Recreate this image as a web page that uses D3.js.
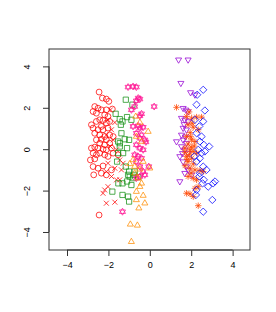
<!DOCTYPE html>
<html>
<head>
<meta charset="utf-8">
<script src="https://d3js.org/d3.v7.min.js"></script>
<style>
  body { margin: 0; background: #fff; }
  text { font-family: "Liberation Sans", Arial, sans-serif; }
</style>
</head>
<body>
<div id="chart"></div>
<script>
// point groups (x, y)
var redCircles = [[-2.45,2.76],[-2.29,2.47],[-2.10,2.42],[-1.98,2.31],[-2.66,2.06],[-2.50,1.98],[-2.34,1.90],[-2.10,1.90],[-1.81,1.94],[-2.74,1.82],[-2.58,1.74],[-2.18,1.66],[-2.82,1.18],[-2.58,1.34],[-2.42,1.42],[-2.26,1.39],[-2.10,1.26],[-1.94,1.34],[-2.74,1.02],[-2.50,0.94],[-2.26,0.94],[-2.02,1.02],[-2.66,0.77],[-2.42,0.69],[-2.18,0.61],[-1.94,0.69],[-1.77,0.61],[-2.58,0.45],[-2.34,0.48],[-2.10,0.45],[-2.82,0.05],[-2.66,0.10],[-2.50,0.05],[-2.26,0.00],[-2.10,-0.03],[-1.85,0.05],[-2.74,-0.19],[-2.58,-0.27],[-2.42,-0.19],[-2.18,-0.27],[-2.02,-0.35],[-1.77,-0.19],[-2.87,-0.52],[-2.66,-0.47],[-2.74,-0.84],[-2.50,-0.92],[-2.26,-0.81],[-1.85,-1.00],[-2.71,-1.24],[-2.34,-1.16],[-2.10,-1.24],[-2.45,-3.18],[-2.34,1.10],[-2.02,1.58],[-2.18,0.21],[-1.94,0.29],[-2.42,0.29],[-1.53,-0.27]];
var redCrosses = [[-1.90,1.90],[-2.02,1.42],[-1.69,1.29],[-1.85,0.94],[-2.10,0.69],[-1.77,0.45],[-1.90,0.13],[-1.61,-0.03],[-2.02,-0.68],[-1.69,-0.92],[-2.10,-1.08],[-1.85,-1.32],[-1.61,-1.48],[-2.02,-1.81],[-2.26,-2.13],[-2.10,-2.61],[-1.69,-2.56],[-1.45,-1.48],[-1.37,-1.00],[-2.18,-1.97],[-1.45,-0.52],[-1.29,-0.68]];
var greenSquares = [[-1.16,2.39],[-1.65,1.71],[-1.45,1.45],[-1.32,1.34],[-1.40,1.18],[-1.10,1.55],[-0.84,2.15],[-0.89,1.42],[-1.37,0.77],[-1.53,0.37],[-1.21,0.48],[-1.00,0.45],[-1.45,0.13],[-1.10,0.05],[-1.29,-0.19],[-1.58,-0.60],[-1.16,-0.84],[-1.00,-1.08],[-0.81,-1.40],[-0.97,-1.32],[-1.10,-1.56],[-1.32,-1.65],[-1.52,-1.65],[-0.89,-1.73],[-1.81,-2.05],[-1.32,-2.21],[-1.05,-2.29],[-1.00,-2.53],[-0.76,-1.24],[-0.56,-1.35],[-0.73,-1.08],[-1.53,-0.19],[-1.45,0.29],[-1.05,-1.24]];
var pinkStars = [[-1.05,3.00],[-0.81,3.03],[-0.65,3.00],[-0.56,2.47],[-0.65,2.34],[-0.48,2.42],[-0.89,1.90],[-0.73,2.06],[-0.40,1.71],[-0.48,1.61],[0.21,2.06],[-0.81,1.10],[-0.56,1.13],[-0.48,1.02],[-0.32,1.06],[-0.65,0.77],[-0.40,0.69],[-0.48,0.53],[-0.24,0.45],[-0.19,0.35],[-0.65,0.21],[-0.48,0.05],[-0.32,-0.03],[-0.73,-0.27],[-0.56,-0.35],[-0.40,-0.44],[-0.65,-0.60],[-0.48,-0.84],[-0.32,-1.08],[-0.24,-1.24],[-0.48,-1.32],[-0.65,-1.40],[-0.05,-0.84],[-1.32,-3.02]];
var orangeTriangles = [[-0.68,1.58],[-0.48,1.29],[-0.08,0.85],[-0.65,0.61],[-0.40,0.37],[-0.81,-0.52],[-0.97,-0.71],[-0.73,-0.84],[-0.48,-0.97],[-0.32,-0.60],[0.00,-0.92],[-0.73,-1.16],[-0.56,-1.40],[-0.40,-1.65],[-0.48,-1.81],[-0.65,-2.05],[-0.32,-2.24],[-0.65,-2.45],[-0.24,-2.61],[-0.53,-2.85],[-0.94,-3.63],[-0.60,-3.68],[-0.89,-4.47]];
var purpleTriangles = [[1.39,4.32],[1.85,4.32],[1.50,3.19],[1.97,2.74],[2.18,2.63],[1.61,1.98],[1.74,1.90],[1.85,1.82],[1.53,1.50],[1.69,1.42],[1.85,1.34],[1.61,1.02],[1.77,0.94],[1.53,0.69],[1.29,0.37],[1.61,0.45],[1.77,0.29],[1.53,0.13],[1.69,-0.03],[1.85,-0.19],[1.45,-0.35],[1.61,-0.60],[1.77,-0.84],[1.69,-1.16],[1.45,-1.56],[2.02,-1.24],[1.85,-1.00],[1.66,1.20],[1.58,-0.20],[1.72,0.60]];
var redAsterisks = [[1.29,2.02],[1.77,1.58],[2.02,1.50],[2.26,1.55],[2.50,1.55],[1.85,1.18],[2.10,1.06],[2.34,0.94],[1.77,0.61],[2.02,0.45],[2.18,0.37],[1.69,0.05],[1.94,-0.03],[2.10,-0.11],[2.26,-0.19],[1.77,-0.35],[2.02,-0.44],[1.85,-0.60],[2.10,-0.71],[1.94,-0.92],[2.18,-1.00],[2.42,-1.03],[2.58,-1.08],[1.85,-1.32],[2.10,-1.40],[2.26,-1.48],[1.77,-2.13],[1.94,-2.16],[2.18,-1.89],[2.34,-1.81],[2.34,-2.73],[2.10,-2.29],[1.90,1.80],[2.05,1.25],[1.95,0.80],[1.85,0.25],[2.00,0.10],[1.70,-0.15],[1.92,-0.25],[1.70,-0.80],[2.00,-1.15],[1.98,0.60],[2.15,0.15],[1.80,-0.50]];
var blueDiamonds = [[2.58,2.87],[2.29,2.63],[2.26,2.15],[2.66,1.87],[2.18,1.42],[2.39,1.10],[2.58,1.34],[2.26,0.77],[2.50,0.61],[2.42,0.37],[2.61,0.21],[2.87,0.13],[2.34,-0.03],[2.50,-0.19],[2.66,-0.11],[2.42,-0.44],[2.26,-0.60],[2.58,-0.84],[2.74,-1.00],[2.42,-1.16],[2.39,-1.32],[2.61,-1.48],[2.55,-1.65],[2.82,-1.81],[3.06,-1.65],[3.15,-1.56],[2.26,-1.97],[2.23,-2.21],[3.02,-2.45],[2.58,-3.02],[2.15,-0.35]];

var xTicks = [-4, -2, 0, 2, 4];
var yTicks = [-4, -2, 0, 2, 4];

// R style plotting characters as custom d3 symbol types (size = r^2)
var pch = {
  circle: { draw: function(c, s) { var r = Math.sqrt(s); c.moveTo(r, 0); c.arc(0, 0, r, 0, 2 * Math.PI); } },
  square: { draw: function(c, s) { var h = Math.sqrt(s) * 0.9; c.rect(-h, -h, 2 * h, 2 * h); } },
  triUp: { draw: function(c, s) { var r = Math.sqrt(s) * 1.2; c.moveTo(0, -r); c.lineTo(r * 0.866, r * 0.5); c.lineTo(-r * 0.866, r * 0.5); c.closePath(); } },
  triDown: { draw: function(c, s) { var r = Math.sqrt(s) * 1.2; c.moveTo(0, r); c.lineTo(r * 0.866, -r * 0.5); c.lineTo(-r * 0.866, -r * 0.5); c.closePath(); } },
  diamond: { draw: function(c, s) { var r = Math.sqrt(s) * 1.25; c.moveTo(0, -r); c.lineTo(r, 0); c.lineTo(0, r); c.lineTo(-r, 0); c.closePath(); } },
  cross: { draw: function(c, s) { var r = Math.sqrt(s) * 0.85; c.moveTo(-r, -r); c.lineTo(r, r); c.moveTo(-r, r); c.lineTo(r, -r); } },
  asterisk: { draw: function(c, s) { var r = Math.sqrt(s) * 1.1, d = r * 0.75; c.moveTo(-r, 0); c.lineTo(r, 0); c.moveTo(0, -r); c.lineTo(0, r); c.moveTo(-d, -d); c.lineTo(d, d); c.moveTo(-d, d); c.lineTo(d, -d); } },
  david: { draw: function(c, s) { var r = Math.sqrt(s) * 1.2; c.moveTo(0, -r); c.lineTo(r * 0.866, r * 0.5); c.lineTo(-r * 0.866, r * 0.5); c.closePath(); c.moveTo(0, r); c.lineTo(r * 0.866, -r * 0.5); c.lineTo(-r * 0.866, -r * 0.5); c.closePath(); } }
};

var groups = [
  { pts: redCircles, shape: pch.circle, col: "#ff0000" },
  { pts: redCrosses, shape: pch.cross, col: "#ff0000" },
  { pts: greenSquares, shape: pch.square, col: "#159015" },
  { pts: pinkStars, shape: pch.david, col: "#ff1493" },
  { pts: orangeTriangles, shape: pch.triUp, col: "#ff8c00" },
  { pts: purpleTriangles, shape: pch.triDown, col: "#9400d3" },
  { pts: redAsterisks, shape: pch.asterisk, col: "#ff4500" },
  { pts: blueDiamonds, shape: pch.diamond, col: "#0000ff" }
];

var w = 276, h = 312;
var m = { top: 49, left: 49, right: 26, bottom: 62 };

var x = d3.scaleLinear().domain([-4.87, 4.84]).range([m.left, w - m.right]);
var y = d3.scaleLinear().domain([-4.87, 4.84]).range([h - m.bottom, m.top]);

var svg = d3.select('#chart').append('svg')
  .attr('width', w)
  .attr('height', h);

groups.forEach(function(g) {
  var sym = d3.symbol().type(g.shape).size(8.5);
  svg.append('g').selectAll('path')
    .data(g.pts)
    .enter()
    .append('path')
    .attr('transform', function(d) { return 'translate(' + x(d[0]) + ',' + y(d[1]) + ')'; })
    .attr('d', sym)
    .attr('fill', 'none')
    .attr('stroke', g.col)
    .attr('stroke-opacity', 0.75)
    .attr('stroke-width', 1);
});

// box
svg.append('rect')
  .attr('x', m.left)
  .attr('y', m.top)
  .attr('width', w - m.left - m.right)
  .attr('height', h - m.top - m.bottom)
  .attr('fill', 'none')
  .attr('stroke', '#333')
  .attr('stroke-width', 1);

var xAxis = d3.axisBottom(x).tickValues(xTicks).tickSize(6).tickPadding(6)
  .tickFormat(function(d) { return d < 0 ? '\u2212' + Math.abs(d) : d; });
var yAxis = d3.axisLeft(y).tickValues(yTicks).tickSize(6).tickPadding(6)
  .tickFormat(function(d) { return d < 0 ? '\u2212' + Math.abs(d) : d; });

var gx = svg.append('g')
  .attr('transform', 'translate(0,' + (h - m.bottom) + ')')
  .call(xAxis);
gx.select('.domain').remove();
gx.append('line')
  .attr('x1', x(xTicks[0])).attr('x2', x(xTicks[xTicks.length - 1]))
  .attr('stroke', '#333');
gx.selectAll('.tick line').attr('stroke', '#333');
gx.selectAll('text').attr('font-size', 9).attr('fill', '#000')
  .attr('font-family', '"Liberation Sans", Arial, sans-serif');

var gy = svg.append('g')
  .attr('transform', 'translate(' + m.left + ',0)')
  .call(yAxis);
gy.select('.domain').remove();
gy.append('line')
  .attr('y1', y(yTicks[0])).attr('y2', y(yTicks[yTicks.length - 1]))
  .attr('stroke', '#333');
gy.selectAll('.tick line').attr('stroke', '#333');
gy.selectAll('text')
  .attr('font-size', 9).attr('fill', '#000')
  .attr('font-family', '"Liberation Sans", Arial, sans-serif')
  .attr('text-anchor', 'middle')
  .attr('x', null).attr('dy', null)
  .attr('transform', 'translate(-19,0) rotate(-90)')
  .attr('y', 0);
</script>
</body>
</html>
